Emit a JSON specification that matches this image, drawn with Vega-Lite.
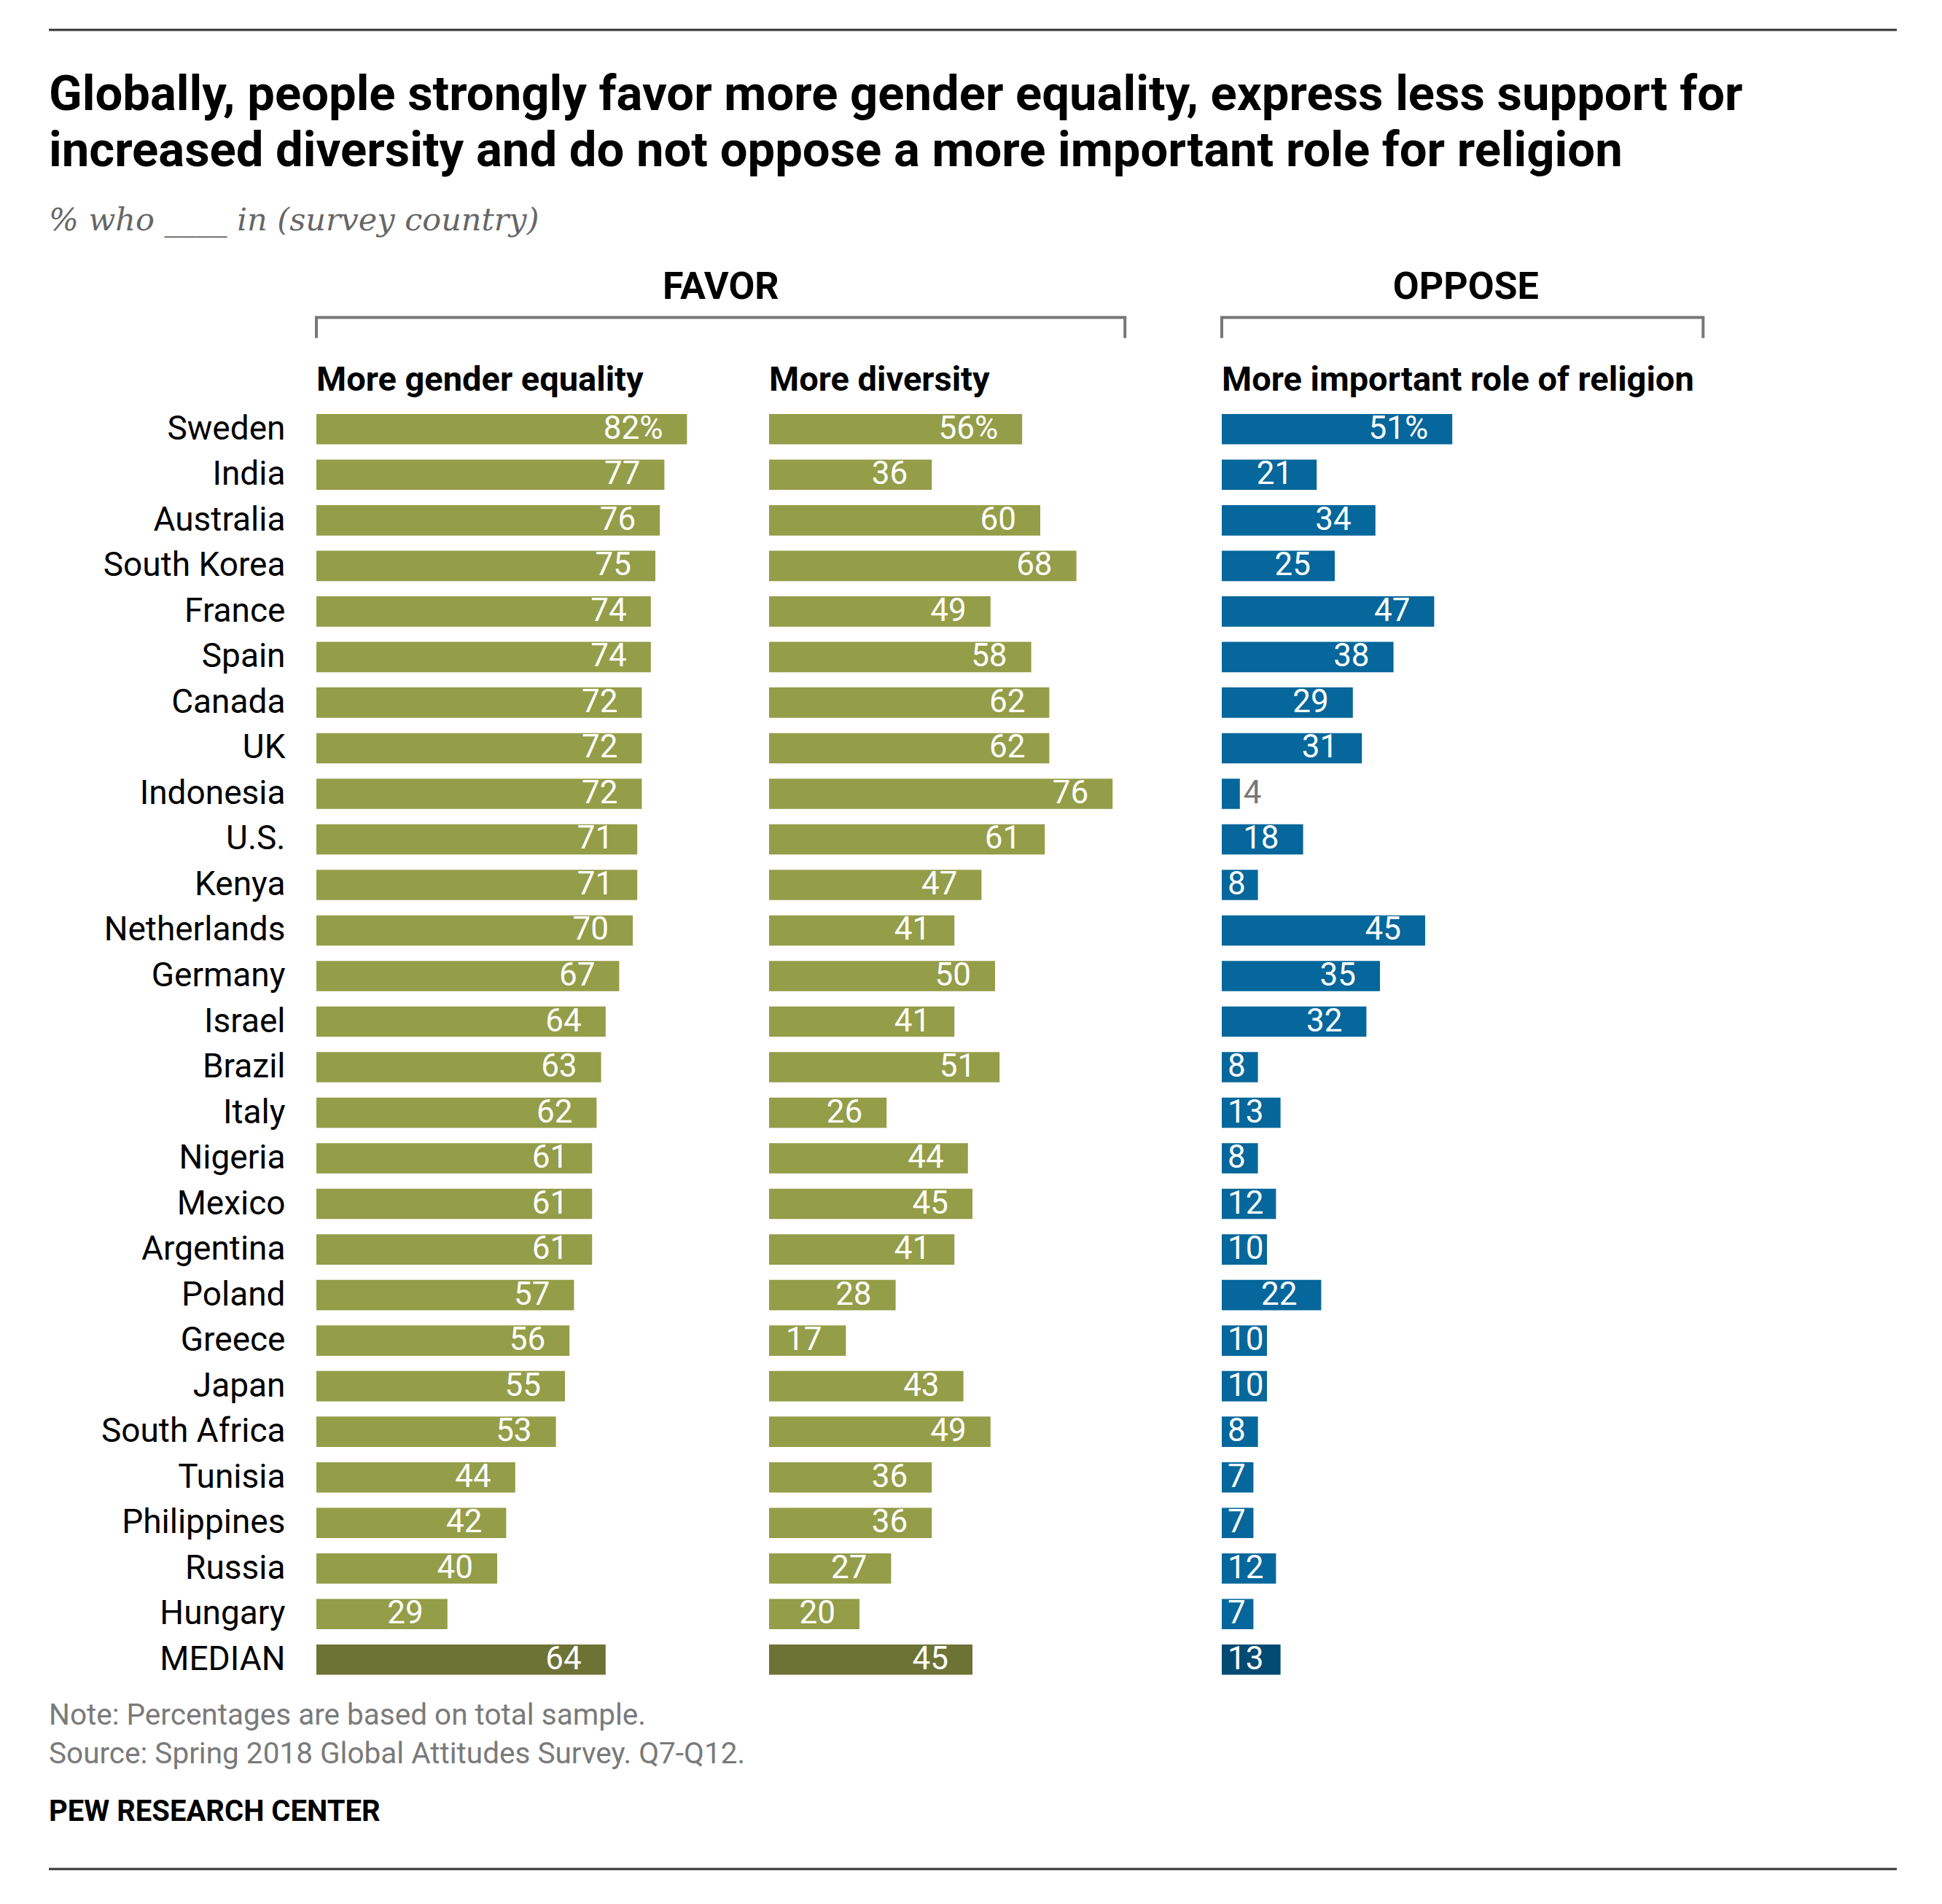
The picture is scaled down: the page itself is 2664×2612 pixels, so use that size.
{
  "$schema": "https://vega.github.io/schema/vega-lite/v6.json",
  "background": "white",
  "padding": {"top": 11, "left": 65, "right": 10, "bottom": 10},
  "config": {
    "font": "Roboto",
    "view": {"stroke": null},
    "locale": {"number": {"decimal": ".", "thousands": ",", "grouping": [3], "currency": ["", "%"]}},
    "axis": {"grid": false}
  },
  "datasets": {
    "survey": [
      {"country": "Sweden", "gender": 82, "diversity": 56, "religion": 51},
      {"country": "India", "gender": 77, "diversity": 36, "religion": 21},
      {"country": "Australia", "gender": 76, "diversity": 60, "religion": 34},
      {"country": "South Korea", "gender": 75, "diversity": 68, "religion": 25},
      {"country": "France", "gender": 74, "diversity": 49, "religion": 47},
      {"country": "Spain", "gender": 74, "diversity": 58, "religion": 38},
      {"country": "Canada", "gender": 72, "diversity": 62, "religion": 29},
      {"country": "UK", "gender": 72, "diversity": 62, "religion": 31},
      {"country": "Indonesia", "gender": 72, "diversity": 76, "religion": 4},
      {"country": "U.S.", "gender": 71, "diversity": 61, "religion": 18},
      {"country": "Kenya", "gender": 71, "diversity": 47, "religion": 8},
      {"country": "Netherlands", "gender": 70, "diversity": 41, "religion": 45},
      {"country": "Germany", "gender": 67, "diversity": 50, "religion": 35},
      {"country": "Israel", "gender": 64, "diversity": 41, "religion": 32},
      {"country": "Brazil", "gender": 63, "diversity": 51, "religion": 8},
      {"country": "Italy", "gender": 62, "diversity": 26, "religion": 13},
      {"country": "Nigeria", "gender": 61, "diversity": 44, "religion": 8},
      {"country": "Mexico", "gender": 61, "diversity": 45, "religion": 12},
      {"country": "Argentina", "gender": 61, "diversity": 41, "religion": 10},
      {"country": "Poland", "gender": 57, "diversity": 28, "religion": 22},
      {"country": "Greece", "gender": 56, "diversity": 17, "religion": 10},
      {"country": "Japan", "gender": 55, "diversity": 43, "religion": 10},
      {"country": "South Africa", "gender": 53, "diversity": 49, "religion": 8},
      {"country": "Tunisia", "gender": 44, "diversity": 36, "religion": 7},
      {"country": "Philippines", "gender": 42, "diversity": 36, "religion": 7},
      {"country": "Russia", "gender": 40, "diversity": 27, "religion": 12},
      {"country": "Hungary", "gender": 29, "diversity": 20, "religion": 7},
      {"country": "MEDIAN", "gender": 64, "diversity": 45, "religion": 13}
    ]
  },
  "spacing": 26,
  "vconcat": [
    {
      "width": 2535,
      "height": 60,
      "data": {"values": [{}]},
      "mark": {"type": "rule", "color": "#333333", "strokeWidth": 3},
      "encoding": {
        "x": {"datum": 0, "type": "quantitative", "scale": {"domain": [0, 1]}, "axis": null},
        "x2": {"datum": 1}
      }
    },
    {
      "title": {
        "text": ["Globally, people strongly favor more gender equality, express less support for", "increased diversity and do not oppose a more important role for religion"],
        "subtitle": "% who ____ in (survey country)",
        "anchor": "start",
        "frame": "bounds",
        "offset": 42,
        "font": "Roboto",
        "fontSize": 67,
        "fontWeight": "bold",
        "color": "#000000",
        "lineHeight": 77,
        "subtitleFont": "DejaVu Serif",
        "subtitleFontStyle": "italic",
        "subtitleFontWeight": "normal",
        "subtitleFontSize": 43,
        "subtitleColor": "#666666",
        "subtitlePadding": 40
      },
      "bounds": "flush",
      "spacing": 63,
      "hconcat": [
        {
          "width": 304,
          "height": 1938,
          "data": {"values": [{}]},
          "mark": {"type": "text"},
          "encoding": {"text": {"value": ""}}
        },
        {
          "width": 558,
          "height": 1938,
          "layer": [
            {
              "data": {"name": "survey"},
              "mark": {"type": "bar"},
              "encoding": {
                "y": {
                  "field": "country", "type": "nominal", "title": null,
                  "scale": {"domain": [" ", "  ", "   ", "Sweden", "India", "Australia", "South Korea", "France", "Spain", "Canada", "UK", "Indonesia", "U.S.", "Kenya", "Netherlands", "Germany", "Israel", "Brazil", "Italy", "Nigeria", "Mexico", "Argentina", "Poland", "Greece", "Japan", "South Africa", "Tunisia", "Philippines", "Russia", "Hungary", "MEDIAN"], "paddingInner": 0.335, "paddingOuter": 0.1675},
                  "axis": {"domain": false, "ticks": false, "labelPadding": 43, "labelFont": "Roboto", "labelFontSize": 46, "labelColor": "#000000", "labelLimit": 600, "title": null}
                },
                "x": {"field": "gender", "type": "quantitative", "scale": {"domain": [0, 90], "nice": false}, "axis": null},
                "color": {"condition": {"test": "datum.country === 'MEDIAN'", "value": "#6D7335"}, "value": "#949D48"}
              }
            },
            {
              "data": {"name": "survey"},
              "transform": [{"filter": "datum.gender >= 15 && datum.country !== 'Sweden'"}],
              "mark": {"type": "text", "align": "right", "baseline": "middle", "dx": -33, "font": "Roboto", "fontSize": 44, "color": "#FFFFFF"},
              "encoding": {
                "y": {"field": "country", "type": "nominal"},
                "x": {"field": "gender", "type": "quantitative", "axis": null},
                "text": {"field": "gender", "type": "quantitative", "format": "d"}
              }
            },
            {
              "data": {"name": "survey"},
              "transform": [{"filter": "datum.country === 'Sweden'"}],
              "mark": {"type": "text", "align": "right", "baseline": "middle", "dx": -33, "font": "Roboto", "fontSize": 44, "color": "#FFFFFF"},
              "encoding": {
                "y": {"field": "country", "type": "nominal"},
                "x": {"field": "gender", "type": "quantitative", "axis": null},
                "text": {"field": "gender", "type": "quantitative", "format": "$d"}
              }
            },
            {
              "data": {"values": [{"label": "More gender equality"}]},
              "mark": {"type": "text", "align": "left", "baseline": "middle", "font": "Roboto", "fontSize": 47, "fontWeight": "bold", "color": "#000000"},
              "encoding": {
                "y": {"datum": "   ", "type": "nominal", "bandPosition": 0.4},
                "x": {"datum": 0, "type": "quantitative", "axis": null},
                "text": {"field": "label"}
              }
            },
            {
              "data": {"values": [{"label": "FAVOR"}]},
              "mark": {"type": "text", "align": "center", "baseline": "middle", "font": "Roboto", "fontSize": 52, "fontWeight": "bold", "color": "#000000"},
              "encoding": {
                "y": {"datum": " ", "type": "nominal", "bandPosition": 0.33},
                "x": {"datum": 89.5, "type": "quantitative", "axis": null},
                "text": {"field": "label"}
              }
            },
            {
              "data": {"values": [{}]},
              "mark": {"type": "rule", "color": "#777777", "strokeWidth": 4, "strokeCap": "square"},
              "encoding": {
                "y": {"datum": "  ", "type": "nominal", "bandPosition": -0.18},
                "x": {"datum": 0, "type": "quantitative", "axis": null},
                "x2": {"datum": 178.9}
              }
            },
            {
              "data": {"values": [{}]},
              "mark": {"type": "rule", "color": "#777777", "strokeWidth": 4},
              "encoding": {
                "y": {"datum": "  ", "type": "nominal", "bandPosition": -0.18},
                "y2": {"datum": "  ", "bandPosition": 0.5},
                "x": {"datum": 0, "type": "quantitative", "axis": null}
              }
            },
            {
              "data": {"values": [{}]},
              "mark": {"type": "rule", "color": "#777777", "strokeWidth": 4},
              "encoding": {
                "y": {"datum": "  ", "type": "nominal", "bandPosition": -0.18},
                "y2": {"datum": "  ", "bandPosition": 0.5},
                "x": {"datum": 178.9, "type": "quantitative", "axis": null}
              }
            }
          ]
        },
        {
          "width": 558,
          "height": 1938,
          "layer": [
            {
              "data": {"name": "survey"},
              "mark": {"type": "bar"},
              "encoding": {
                "y": {
                  "field": "country", "type": "nominal", "title": null,
                  "scale": {"domain": [" ", "  ", "   ", "Sweden", "India", "Australia", "South Korea", "France", "Spain", "Canada", "UK", "Indonesia", "U.S.", "Kenya", "Netherlands", "Germany", "Israel", "Brazil", "Italy", "Nigeria", "Mexico", "Argentina", "Poland", "Greece", "Japan", "South Africa", "Tunisia", "Philippines", "Russia", "Hungary", "MEDIAN"], "paddingInner": 0.335, "paddingOuter": 0.1675},
                  "axis": null
                },
                "x": {"field": "diversity", "type": "quantitative", "scale": {"domain": [0, 90], "nice": false}, "axis": null},
                "color": {"condition": {"test": "datum.country === 'MEDIAN'", "value": "#6D7335"}, "value": "#949D48"}
              }
            },
            {
              "data": {"name": "survey"},
              "transform": [{"filter": "datum.diversity >= 15 && datum.country !== 'Sweden'"}],
              "mark": {"type": "text", "align": "right", "baseline": "middle", "dx": -33, "font": "Roboto", "fontSize": 44, "color": "#FFFFFF"},
              "encoding": {
                "y": {"field": "country", "type": "nominal", "axis": null},
                "x": {"field": "diversity", "type": "quantitative", "axis": null},
                "text": {"field": "diversity", "type": "quantitative", "format": "d"}
              }
            },
            {
              "data": {"name": "survey"},
              "transform": [{"filter": "datum.country === 'Sweden'"}],
              "mark": {"type": "text", "align": "right", "baseline": "middle", "dx": -33, "font": "Roboto", "fontSize": 44, "color": "#FFFFFF"},
              "encoding": {
                "y": {"field": "country", "type": "nominal", "axis": null},
                "x": {"field": "diversity", "type": "quantitative", "axis": null},
                "text": {"field": "diversity", "type": "quantitative", "format": "$d"}
              }
            },
            {
              "data": {"values": [{"label": "More diversity"}]},
              "mark": {"type": "text", "align": "left", "baseline": "middle", "font": "Roboto", "fontSize": 47, "fontWeight": "bold", "color": "#000000"},
              "encoding": {
                "y": {"datum": "   ", "type": "nominal", "bandPosition": 0.4, "axis": null},
                "x": {"datum": 0, "type": "quantitative", "axis": null},
                "text": {"field": "label"}
              }
            }
          ]
        },
        {
          "width": 558,
          "height": 1938,
          "layer": [
            {
              "data": {"name": "survey"},
              "mark": {"type": "bar"},
              "encoding": {
                "y": {
                  "field": "country", "type": "nominal", "title": null,
                  "scale": {"domain": [" ", "  ", "   ", "Sweden", "India", "Australia", "South Korea", "France", "Spain", "Canada", "UK", "Indonesia", "U.S.", "Kenya", "Netherlands", "Germany", "Israel", "Brazil", "Italy", "Nigeria", "Mexico", "Argentina", "Poland", "Greece", "Japan", "South Africa", "Tunisia", "Philippines", "Russia", "Hungary", "MEDIAN"], "paddingInner": 0.335, "paddingOuter": 0.1675},
                  "axis": null
                },
                "x": {"field": "religion", "type": "quantitative", "scale": {"domain": [0, 90], "nice": false}, "axis": null},
                "color": {"condition": {"test": "datum.country === 'MEDIAN'", "value": "#034B73"}, "value": "#05679B"}
              }
            },
            {
              "data": {"name": "survey"},
              "transform": [{"filter": "datum.religion >= 15 && datum.country !== 'Sweden'"}],
              "mark": {"type": "text", "align": "right", "baseline": "middle", "dx": -33, "font": "Roboto", "fontSize": 44, "color": "#FFFFFF"},
              "encoding": {
                "y": {"field": "country", "type": "nominal", "axis": null},
                "x": {"field": "religion", "type": "quantitative", "axis": null},
                "text": {"field": "religion", "type": "quantitative", "format": "d"}
              }
            },
            {
              "data": {"name": "survey"},
              "transform": [{"filter": "datum.country === 'Sweden'"}],
              "mark": {"type": "text", "align": "right", "baseline": "middle", "dx": -33, "font": "Roboto", "fontSize": 44, "color": "#FFFFFF"},
              "encoding": {
                "y": {"field": "country", "type": "nominal", "axis": null},
                "x": {"field": "religion", "type": "quantitative", "axis": null},
                "text": {"field": "religion", "type": "quantitative", "format": "$d"}
              }
            },
            {
              "data": {"name": "survey"},
              "transform": [{"filter": "datum.religion >= 5 && datum.religion < 15"}],
              "mark": {"type": "text", "align": "left", "baseline": "middle", "dx": 8, "font": "Roboto", "fontSize": 44, "color": "#FFFFFF"},
              "encoding": {
                "y": {"field": "country", "type": "nominal", "axis": null},
                "x": {"datum": 0, "type": "quantitative", "axis": null},
                "text": {"field": "religion", "type": "quantitative", "format": "d"}
              }
            },
            {
              "data": {"name": "survey"},
              "transform": [{"filter": "datum.religion < 5"}],
              "mark": {"type": "text", "align": "left", "baseline": "middle", "dx": 5, "font": "Roboto", "fontSize": 44, "color": "#777777"},
              "encoding": {
                "y": {"field": "country", "type": "nominal", "axis": null},
                "x": {"field": "religion", "type": "quantitative", "axis": null},
                "text": {"field": "religion", "type": "quantitative", "format": "d"}
              }
            },
            {
              "data": {"values": [{"label": "More important role of religion"}]},
              "mark": {"type": "text", "align": "left", "baseline": "middle", "font": "Roboto", "fontSize": 47, "fontWeight": "bold", "color": "#000000"},
              "encoding": {
                "y": {"datum": "   ", "type": "nominal", "bandPosition": 0.4, "axis": null},
                "x": {"datum": 0, "type": "quantitative", "axis": null},
                "text": {"field": "label"}
              }
            },
            {
              "data": {"values": [{"label": "OPPOSE"}]},
              "mark": {"type": "text", "align": "center", "baseline": "middle", "font": "Roboto", "fontSize": 52, "fontWeight": "bold", "color": "#000000"},
              "encoding": {
                "y": {"datum": " ", "type": "nominal", "bandPosition": 0.33, "axis": null},
                "x": {"datum": 54, "type": "quantitative", "axis": null},
                "text": {"field": "label"}
              }
            },
            {
              "data": {"values": [{}]},
              "mark": {"type": "rule", "color": "#777777", "strokeWidth": 4, "strokeCap": "square"},
              "encoding": {
                "y": {"datum": "  ", "type": "nominal", "bandPosition": -0.18, "axis": null},
                "x": {"datum": 0, "type": "quantitative", "axis": null},
                "x2": {"datum": 106.5}
              }
            },
            {
              "data": {"values": [{}]},
              "mark": {"type": "rule", "color": "#777777", "strokeWidth": 4},
              "encoding": {
                "y": {"datum": "  ", "type": "nominal", "bandPosition": -0.18, "axis": null},
                "y2": {"datum": "  ", "bandPosition": 0.5},
                "x": {"datum": 0, "type": "quantitative", "axis": null}
              }
            },
            {
              "data": {"values": [{}]},
              "mark": {"type": "rule", "color": "#777777", "strokeWidth": 4},
              "encoding": {
                "y": {"datum": "  ", "type": "nominal", "bandPosition": -0.18, "axis": null},
                "y2": {"datum": "  ", "bandPosition": 0.5},
                "x": {"datum": 106.5, "type": "quantitative", "axis": null}
              }
            }
          ]
        }
      ]
    },
    {
      "width": 2535,
      "height": 2,
      "title": {
        "text": ["Note: Percentages are based on total sample.", "Source: Spring 2018 Global Attitudes Survey. Q7-Q12."],
        "subtitle": "PEW RESEARCH CENTER",
        "anchor": "start",
        "frame": "group",
        "offset": 57,
        "font": "Roboto",
        "fontSize": 40.5,
        "fontWeight": "normal",
        "color": "#7A7A7A",
        "lineHeight": 53,
        "subtitleFont": "Roboto",
        "subtitleFontSize": 40,
        "subtitleFontWeight": "bold",
        "subtitleColor": "#000000",
        "subtitlePadding": 38
      },
      "data": {"values": [{}]},
      "mark": {"type": "rule", "color": "#333333", "strokeWidth": 3},
      "encoding": {
        "x": {"datum": 0, "type": "quantitative", "scale": {"domain": [0, 1]}, "axis": null},
        "x2": {"datum": 1}
      }
    }
  ]
}
